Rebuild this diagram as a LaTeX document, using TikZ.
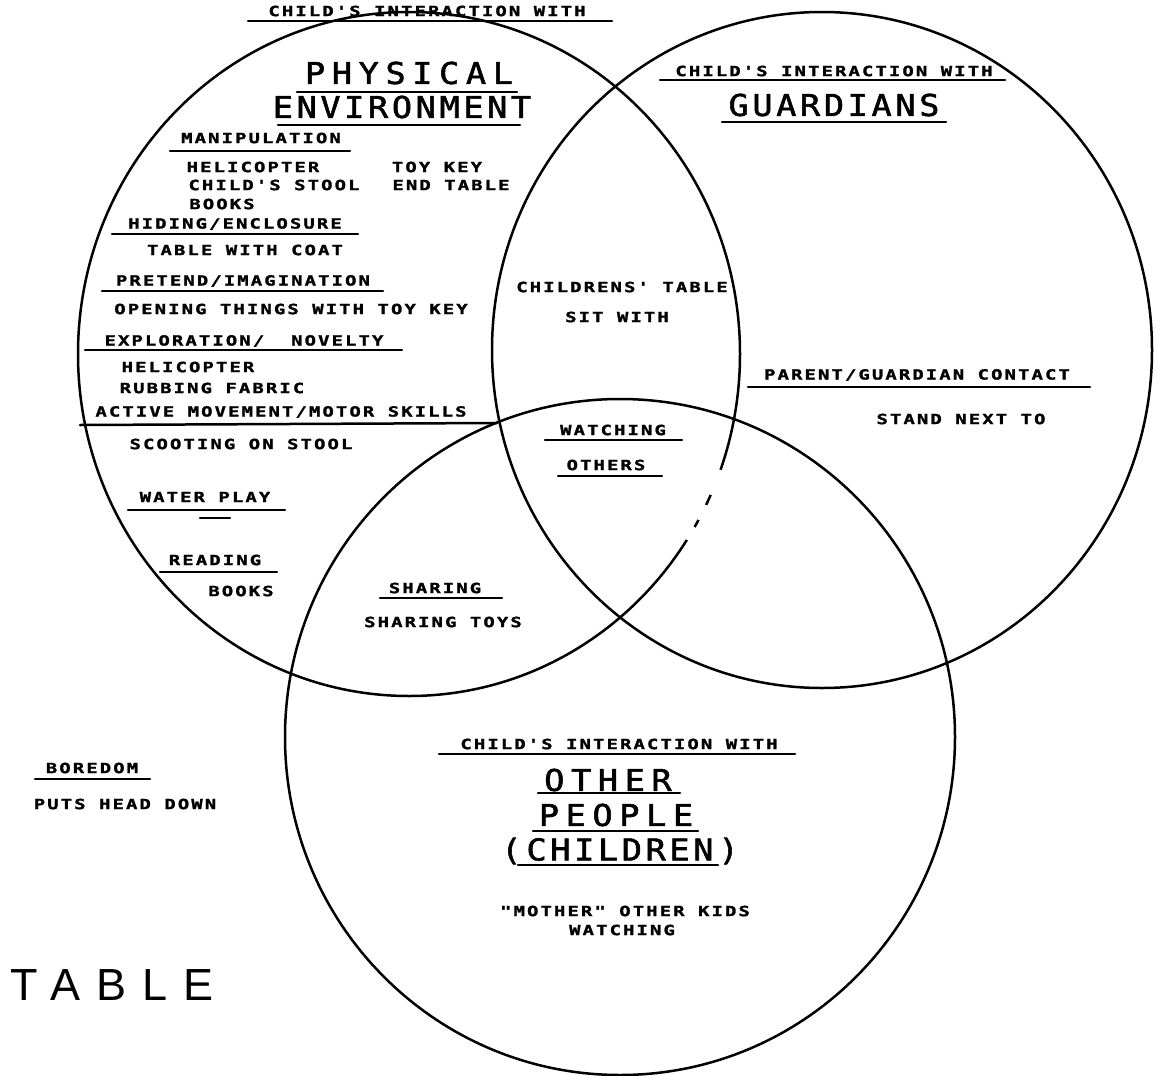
\documentclass[tikz,border=0pt]{standalone}
\usepackage{fontspec}
\newfontfamily\labfont[FakeStretch=1.35,LetterSpace=15,FakeBold=1.6]{DejaVu Sans Mono Bold}
\newfontfamily\ttlfont[FakeStretch=1.12,LetterSpace=12,FakeBold=1.8]{DejaVu Sans Mono}
\newfontfamily\ttlwide[FakeStretch=1.12,LetterSpace=22,FakeBold=1.8]{DejaVu Sans Mono}
\newfontfamily\bigfont[LetterSpace=35]{Liberation Sans}
\tikzset{
  ring/.style={draw=black,line width=2.5pt},
  lab/.style={inner sep=0pt,font=\labfont\fontsize{14}{14}\selectfont},
  ttl/.style={inner sep=0pt,font=\ttlfont\fontsize{30}{30}\selectfont},
  ttlw/.style={inner sep=0pt,font=\ttlwide\fontsize{30}{30}\selectfont},
  ul/.style={line width=2.5pt,line cap=round},
  gap/.style={draw=white,line width=5pt},
}
\begin{document}
\begin{tikzpicture}[x=1pt,y=-1pt]
\useasboundingbox (0,0) rectangle (1162,1076);
\fill[white] (0,0) rectangle (1162,1076);
% circles
\draw[ring] (409,354) ellipse [x radius=331,y radius=342];
\draw[ring] (822,350) ellipse [x radius=330,y radius=338];
\draw[ring] (620,737) ellipse [x radius=335,y radius=338];
% broken stretch of the left circle
\draw[gap] ([shift={(19.8:331 and 342)}]409,354) arc [start angle=19.8,end angle=24.3,x radius=331,y radius=342];
\draw[gap] ([shift={(26.2:331 and 342)}]409,354) arc [start angle=26.2,end angle=29.0,x radius=331,y radius=342];
\draw[gap] ([shift={(30.4:331 and 342)}]409,354) arc [start angle=30.4,end angle=32.9,x radius=331,y radius=342];
% left circle texts
\node[lab] (cwL) at (427,11) {CHILD'S INTERACTION WITH};
\draw[ul] (248,21) -- (612,21);
\node[ttlw] (phys) at (409,73) {PHYSICAL};
\draw[ul] (297,92) -- (517,92);
\node[ttl] (env) at (402,107) {ENVIRONMENT};
\draw[ul] (278,125) -- (520,125);
\node[lab] (manip) at (261,138) {MANIPULATION};
\draw[ul] (170,151) -- (350,151);
\node[lab] (heli1) at (253,167) {HELICOPTER};
\node[lab] (stool) at (274,185) {CHILD'S STOOL};
\node[lab] (books1) at (222,204) {BOOKS};
\node[lab] (toykey) at (437,167) {TOY KEY};
\node[lab] (endtable) at (451,185) {END TABLE};
\node[lab] (hiding) at (235,224) {HIDING/ENCLOSURE};
\draw[ul] (112,234) -- (358,234);
\node[lab] (coat) at (245,250) {TABLE WITH COAT};
\node[lab] (pretend) at (243,281) {PRETEND/IMAGINATION};
\draw[ul] (102,291) -- (383,291);
\node[lab] (opening) at (291,309) {OPENING THINGS WITH TOY KEY};
\node[lab] (explor) at (244,341) {EXPLORATION/\ \ NOVELTY};
\draw[ul] (85,350) -- (402,350);
\node[lab] (heli2) at (188,367) {HELICOPTER};
\node[lab] (rubbing) at (212,388) {RUBBING FABRIC};
\node[lab] (active) at (281,412) {ACTIVE MOVEMENT/MOTOR SKILLS};
\draw[ul] (80,425) -- (497,423);
\node[lab] (scoot) at (241,444) {SCOOTING ON STOOL};
\node[lab] (water) at (205,497) {WATER PLAY};
\draw[ul] (128,510) -- (285,510);
\draw[ul] (200,518) -- (230,518);
\node[lab] (reading) at (215,560) {READING};
\draw[ul] (160,572) -- (277,572);
\node[lab] (books2) at (241,591) {BOOKS};
\node[lab] (sharing) at (435,588) {SHARING};
\draw[ul] (380,598) -- (502,598);
\node[lab] (shtoys) at (443,622) {SHARING TOYS};
% left-right overlap
\node[lab] (chtable) at (622,287) {CHILDRENS' TABLE};
\node[lab] (sitwith) at (617,317) {SIT WITH};
% right circle
\node[lab] (cwR) at (834,71) {CHILD'S INTERACTION WITH};
\draw[ul] (660,80) -- (1005,80);
\node[ttl] (guard) at (834,105) {GUARDIANS};
\draw[ul] (722,122) -- (946,122);
\node[lab] (parent) at (917,375) {PARENT/GUARDIAN CONTACT};
\draw[ul] (748,387) -- (1090,387);
\node[lab] (stand) at (961,419) {STAND NEXT TO};
% centre
\node[lab] (watching) at (613,430) {WATCHING};
\draw[ul] (545,440) -- (682,440);
\node[lab] (others) at (606,465) {OTHERS};
\draw[ul] (558,476) -- (662,476);
% bottom circle
\node[lab] (cwB) at (619,744) {CHILD'S INTERACTION WITH};
\draw[ul] (439,754) -- (795,754);
\node[ttlw] (other) at (608,780) {OTHER};
\draw[ul] (538,793) -- (680,793);
\node[ttlw] (people) at (616,815) {PEOPLE};
\draw[ul] (533,831) -- (698,831);
\node[ttl] (children) at (620,851) {(\,CHILDREN\,)};
\draw[ul] (518,865) -- (718,865);
\node[lab] (mother) at (625,911) {"MOTHER" OTHER KIDS};
\node[lab] (watching2) at (622,930) {WATCHING};
% outside
\node[lab] (boredom) at (92,768) {BOREDOM};
\draw[ul] (35,779) -- (150,779);
\node[lab] (puts) at (125,804) {PUTS HEAD DOWN};
\node[inner sep=0pt,font=\bigfont\fontsize{45}{45}\selectfont] (table) at (112,985) {TABLE};
\end{tikzpicture}
\end{document}
